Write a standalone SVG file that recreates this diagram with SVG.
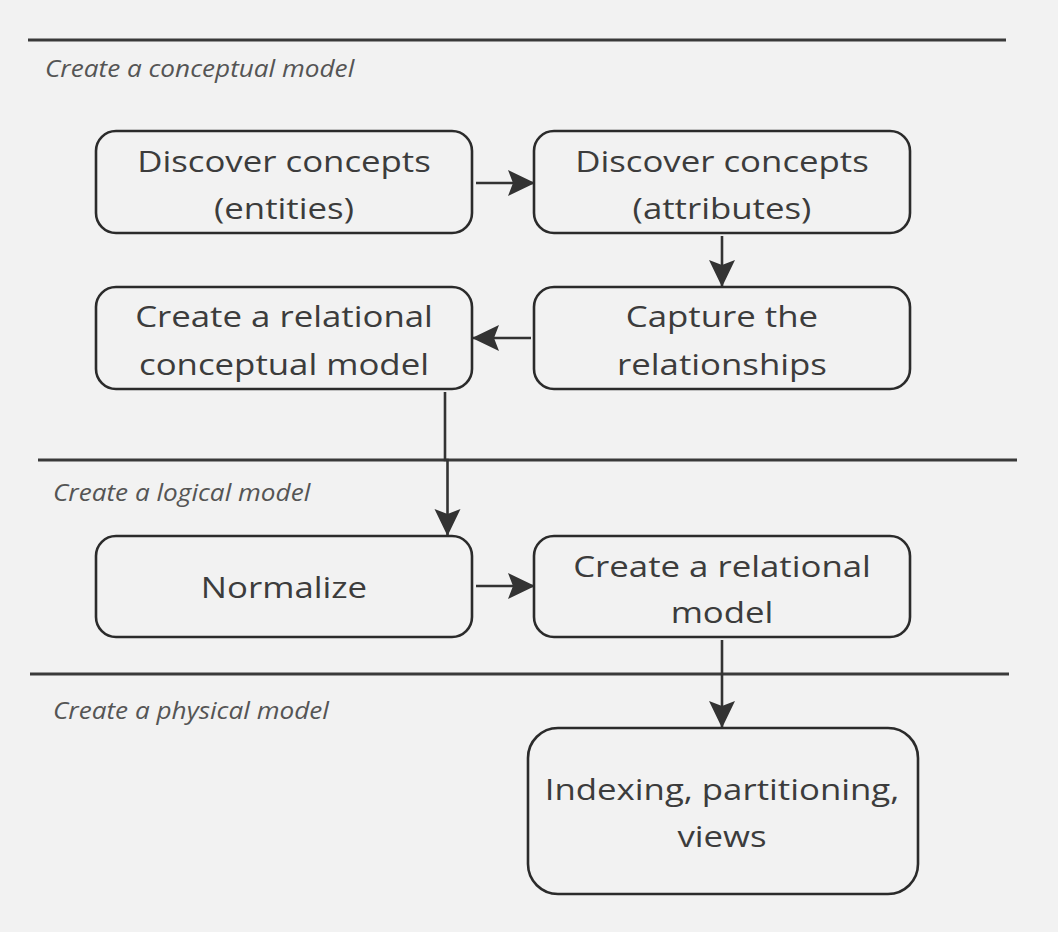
<svg xmlns="http://www.w3.org/2000/svg" width="1058" height="932" viewBox="0 0 1058 932">
<defs>
<marker id="arr" viewBox="0 0 28 28" refX="26" refY="14" markerWidth="28" markerHeight="28" markerUnits="userSpaceOnUse" orient="auto">
<path d="M0,1 L27,14 L0,27 L5,14 Z" fill="#333"/>
</marker>
<style>
.box{fill:none;stroke:#2b2b2b;stroke-width:2.6}
.t{font-family:"Open Sans","DejaVu Sans",sans-serif;font-size:30px;fill:#3c3c3c;text-anchor:middle}
.lab{font-family:"Open Sans","DejaVu Sans",sans-serif;font-size:24px;font-style:italic;fill:#555}
.sep{stroke:#3a3a3a;stroke-width:3}
.c{fill:none;stroke:#333;stroke-width:2.6;marker-end:url(#arr)}
</style>
</defs>
<rect width="1058" height="932" fill="#f2f2f2"/>
<g id="sections">
<line class="sep" x1="28" y1="40" x2="1006" y2="40"/>
<line class="sep" x1="38" y1="460" x2="1017" y2="460" stroke-width="2.5"/>
<line class="sep" x1="30" y1="674" x2="1009" y2="674" stroke-width="3.5"/>
<text class="lab" x="45" y="77" transform="matrix(1.09 0 0 1 -4.05 0)">Create a conceptual model</text>
<text class="lab" x="53" y="501" transform="matrix(1.09 0 0 1 -4.77 0)">Create a logical model</text>
<text class="lab" x="53" y="719" transform="matrix(1.09 0 0 1 -4.77 0)">Create a physical model</text>
</g>
<g id="connectors">
<line class="c" x1="476" y1="183" x2="534" y2="183"/>
<line class="c" x1="722" y1="236" x2="722" y2="286"/>
<line class="c" x1="531" y1="338" x2="473" y2="338"/>
<polyline class="c" points="445,392 445,460 447.5,460 447.5,535"/>
<line class="c" x1="476" y1="586" x2="534" y2="586"/>
<line class="c" x1="722" y1="640" x2="722" y2="727"/>
</g>
<g id="n1"><rect class="box" x="96" y="131" width="376" height="102" rx="20"/>
<g transform="matrix(1.16 0 0 1 -45.44 0)"><text class="t" x="284" y="172">Discover concepts</text><text class="t" x="284" y="219">(entities)</text></g></g>
<g id="n2"><rect class="box" x="534" y="131" width="376" height="102" rx="20"/>
<g transform="matrix(1.16 0 0 1 -115.52 0)"><text class="t" x="722" y="172">Discover concepts</text><text class="t" x="722" y="219">(attributes)</text></g></g>
<g id="n3"><rect class="box" x="534" y="287" width="376" height="102" rx="20"/>
<g transform="matrix(1.16 0 0 1 -115.52 0)"><text class="t" x="722" y="327">Capture the</text><text class="t" x="722" y="375">relationships</text></g></g>
<g id="n4"><rect class="box" x="96" y="287" width="376" height="102" rx="20"/>
<g transform="matrix(1.16 0 0 1 -45.44 0)"><text class="t" x="284" y="327">Create a relational</text><text class="t" x="284" y="375">conceptual model</text></g></g>
<g id="n5"><rect class="box" x="96" y="536" width="376" height="101" rx="20"/>
<g transform="matrix(1.16 0 0 1 -45.44 0)"><text class="t" x="284" y="598">Normalize</text></g></g>
<g id="n6"><rect class="box" x="534" y="536" width="376" height="101" rx="20"/>
<g transform="matrix(1.16 0 0 1 -115.52 0)"><text class="t" x="722" y="577">Create a relational</text><text class="t" x="722" y="623">model</text></g></g>
<g id="n7"><rect class="box" x="528" y="728" width="390" height="166" rx="30"/>
<g transform="matrix(1.16 0 0 1 -115.52 0)"><text class="t" x="722" y="800">Indexing, partitioning,</text><text class="t" x="722" y="847">views</text></g></g>
</svg>
